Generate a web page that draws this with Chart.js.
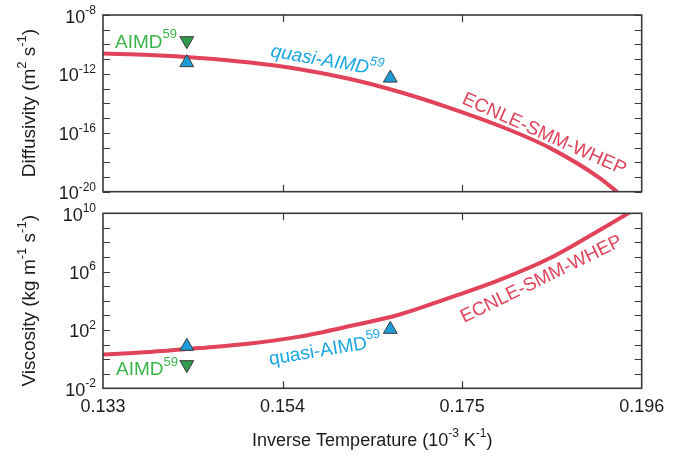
<!DOCTYPE html>
<html>
<head>
<meta charset="utf-8">
<script src="https://cdn.jsdelivr.net/npm/chart.js@4.4.1/dist/chart.umd.min.js"></script>
<style>
    html, body { margin: 0; padding: 0; background: #fff; }
    #wrap { position: relative; width: 693px; height: 456px; }
    #wrap canvas { position: absolute; left: 0; top: 0; }
</style>
</head>
<body>
<div id="wrap">
    <canvas id="topChart" width="693" height="456"></canvas>
    <canvas id="bottomChart" width="693" height="456"></canvas>
</div>
<script>
// Inverse temperature (10^-3 K^-1) where the ECNLE-SMM-WHEP curves were read
const diffX = [0.133, 0.1385, 0.1443, 0.1502, 0.1560, 0.1619, 0.1677, 0.1736, 0.1794, 0.1853, 0.1911, 0.1931, 0.1940];
const diffusivity = [2.4e-11, 1.9e-11, 1.2e-11, 5.9e-12, 2.1e-12, 4.5e-13, 5.9e-14, 4.8e-15, 2.9e-16, 9.1e-18, 8.5e-20, 1.0e-20, 3.8e-21];

const viscX = [0.133, 0.1385, 0.1443, 0.1502, 0.1560, 0.1619, 0.1677, 0.1736, 0.1794, 0.1853, 0.1911, 0.1944, 0.1952];
const viscosity = [2.1, 3.1, 5.8, 11.7, 35, 186, 1150, 1.66e4, 2.7e5, 8.5e6, 7.1e8, 1.0e10, 2.0e10];

// Simulation points
const aimdX = [0.1428];
const aimdDiff = [1.8e-10];
const aimdVisc = [0.42];
const quasiX = [0.1428, 0.1666];
const quasiDiff = [5.8e-12, 5.2e-13];
const quasiVisc = [7.6, 110];

// Axes
const xTicks = [0.133, 0.154, 0.175, 0.196];
const diffRange = [-20, -8];
const diffLabelExp = [-20, -16, -12, -8];
const viscRange = [-2, 10];
const viscLabelExp = [-2, 2, 6, 10];

const FONT = '"Liberation Sans", Arial, Helvetica, sans-serif';
const RED = '#e0435a';
const BLUE_FILL = '#1c9dd8';
const GREEN_FILL = '#2f9c4c';
const BLUE_TEXT = '#1aa6e2';
const GREEN_TEXT = '#3bb54a';
const INK = '#1c1c1c';

// text with superscript pieces: parts = [[text, isSup], ...]
function drawRich(ctx, parts, x, y, align, angle, color, size, italic) {
    const supSize = Math.round(size * 0.66);
    const style = italic ? 'italic ' : '';
    let total = 0;
    const widths = parts.map(([t, sup]) => {
        ctx.font = style + (sup ? supSize : size) + 'px ' + FONT;
        const w = ctx.measureText(t).width;
        total += w;
        return w;
    });
    ctx.save();
    ctx.translate(x, y);
    ctx.rotate(angle * Math.PI / 180);
    ctx.fillStyle = color;
    ctx.textAlign = 'left';
    ctx.textBaseline = 'alphabetic';
    let cx = align === 'right' ? -total : (align === 'center' ? -total / 2 : 0);
    parts.forEach(([t, sup], i) => {
        ctx.font = style + (sup ? supSize : size) + 'px ' + FONT;
        ctx.fillText(t, cx, sup ? -size * 0.48 : 0);
        cx += widths[i];
    });
    ctx.restore();
}

function decades(range) {
    const out = [];
    for (let e = range[0]; e <= range[1]; e++) out.push({ value: Math.pow(10, e) });
    return out;
}

// frame, inward ticks, y tick labels and text notes
const framePlugin = {
    id: 'frame',
    afterDraw(chart, args, opts) {
        const ctx = chart.ctx;
        const a = chart.chartArea;
        const xs = chart.scales.x;
        const ys = chart.scales.y;
        ctx.save();
        ctx.strokeStyle = '#3a3a3a';
        ctx.lineWidth = 1.2;
        ctx.beginPath();
        ys.ticks.forEach(t => {
            const y = Math.round(ys.getPixelForValue(t.value)) + 0.5;
            ctx.moveTo(a.left, y); ctx.lineTo(a.left + 7, y);
            ctx.moveTo(a.right, y); ctx.lineTo(a.right - 7, y);
        });
        xTicks.slice(1, -1).forEach(v => {
            const x = Math.round(xs.getPixelForValue(v)) + 0.5;
            ctx.moveTo(x, a.top); ctx.lineTo(x, a.top + 7);
            ctx.moveTo(x, a.bottom); ctx.lineTo(x, a.bottom - 7);
        });
        ctx.stroke();
        ctx.lineWidth = 1.6;
        ctx.strokeRect(a.left, a.top, a.right - a.left, a.bottom - a.top);
        ctx.restore();

        opts.labelExp.forEach(e => {
            const y = ys.getPixelForValue(Math.pow(10, e));
            drawRich(ctx, [['10', 0], [String(e), 1]], a.left - 7, y + 7.5, 'right', 0, INK, 18);
        });
        opts.notes.forEach(n => drawRich(ctx, n.parts, n.x, n.y, n.align, n.angle, n.color, n.size || 19, n.italic));
    }
};

function makeDatasets(curveX, curveY, aimdY, quasiY) {
    return [
        {
            label: 'quasi-AIMD',
            data: quasiX.map((x, i) => ({ x: x, y: quasiY[i] })),
            pointStyle: 'triangle',
            pointRadius: 8,
            backgroundColor: BLUE_FILL,
            borderColor: '#3d3d3d',
            borderWidth: 1,
            clip: false
        },
        {
            label: 'AIMD',
            data: aimdX.map((x, i) => ({ x: x, y: aimdY[i] })),
            pointStyle: 'triangle',
            rotation: 180,
            pointRadius: 8,
            backgroundColor: GREEN_FILL,
            borderColor: '#3d3d3d',
            borderWidth: 1,
            clip: false
        },
        {
            label: 'ECNLE-SMM-WHEP',
            data: curveX.map((x, i) => ({ x: x, y: curveY[i] })),
            showLine: true,
            pointRadius: 0,
            borderColor: RED,
            borderWidth: 4,
            cubicInterpolationMode: 'monotone',
            clip: 0
        }
    ];
}

function yAxis(range) {
    return {
        type: 'logarithmic',
        min: Math.pow(10, range[0]),
        max: Math.pow(10, range[1]),
        grid: { display: false, drawTicks: false },
        border: { display: false },
        ticks: { display: false },
        afterBuildTicks: axis => { axis.ticks = decades(range); },
        afterFit: axis => { axis.width = 103; }
    };
}

// Top panel: diffusivity
new Chart(document.getElementById('topChart'), {
    type: 'scatter',
    data: { datasets: makeDatasets(diffX, diffusivity, aimdDiff, quasiDiff) },
    options: {
        responsive: false,
        animation: false,
        devicePixelRatio: 1,
        layout: { padding: { left: 0, top: 15, right: 51.3, bottom: 264.3 } },
        plugins: {
            legend: { display: false },
            tooltip: { enabled: false },
            frame: {
                labelExp: diffLabelExp,
                notes: [
                    { parts: [['AIMD', 0], ['59', 1]], x: 115, y: 47.5, align: 'left', angle: 0, color: GREEN_TEXT },
                    { parts: [['quasi-AIMD', 0], ['59', 1]], x: 270, y: 56.5, align: 'left', angle: 10, color: BLUE_TEXT, italic: true },
                    { parts: [['ECNLE-SMM-WHEP', 0]], x: 461, y: 103, align: 'left', angle: 24, color: RED },
                    { parts: [['Diffusivity (m', 0], ['2', 1], [' s', 0], ['-1', 1], [')', 0]], x: 35, y: 103, align: 'center', angle: -90, color: INK }
                ]
            }
        },
        scales: {
            x: { type: 'linear', min: 0.133, max: 0.196, display: false },
            y: yAxis(diffRange)
        }
    },
    plugins: [framePlugin]
});

// Bottom panel: viscosity
new Chart(document.getElementById('bottomChart'), {
    type: 'scatter',
    data: { datasets: makeDatasets(viscX, viscosity, aimdVisc, quasiVisc) },
    options: {
        responsive: false,
        animation: false,
        devicePixelRatio: 1,
        layout: { padding: { left: 0, top: 213.3, right: 51.3, bottom: 0 } },
        plugins: {
            legend: { display: false },
            tooltip: { enabled: false },
            frame: {
                labelExp: viscLabelExp,
                notes: [
                    { parts: [['AIMD', 0], ['59', 1]], x: 116, y: 375, align: 'left', angle: 0, color: GREEN_TEXT },
                    { parts: [['quasi-AIMD', 0], ['59', 1]], x: 270, y: 365, align: 'left', angle: -9.5, color: BLUE_TEXT },
                    { parts: [['ECNLE-SMM-WHEP', 0]], x: 464, y: 323, align: 'left', angle: -26, color: RED },
                    { parts: [['Viscosity (kg m', 0], ['-1', 1], [' s', 0], ['-1', 1], [')', 0]], x: 35, y: 300.8, align: 'center', angle: -90, color: INK },
                    { parts: [['Inverse Temperature (10', 0], ['-3', 1], [' K', 0], ['-1', 1], [')', 0]], x: 372.3, y: 446, align: 'center', angle: 0, color: INK, size: 18 }
                ]
            }
        },
        scales: {
            x: {
                type: 'linear',
                min: 0.133,
                max: 0.196,
                grid: { display: false, drawTicks: false },
                border: { display: false },
                afterBuildTicks: axis => { axis.ticks = xTicks.map(v => ({ value: v })); },
                afterFit: axis => { axis.height = 456 - 388.3; },
                ticks: {
                    padding: 8,
                    color: INK,
                    maxRotation: 0,
                    autoSkip: false,
                    font: { family: FONT, size: 18 },
                    callback: v => Number(v).toFixed(3)
                }
            },
            y: yAxis(viscRange)
        }
    },
    plugins: [framePlugin]
});
</script>
</body>
</html>
